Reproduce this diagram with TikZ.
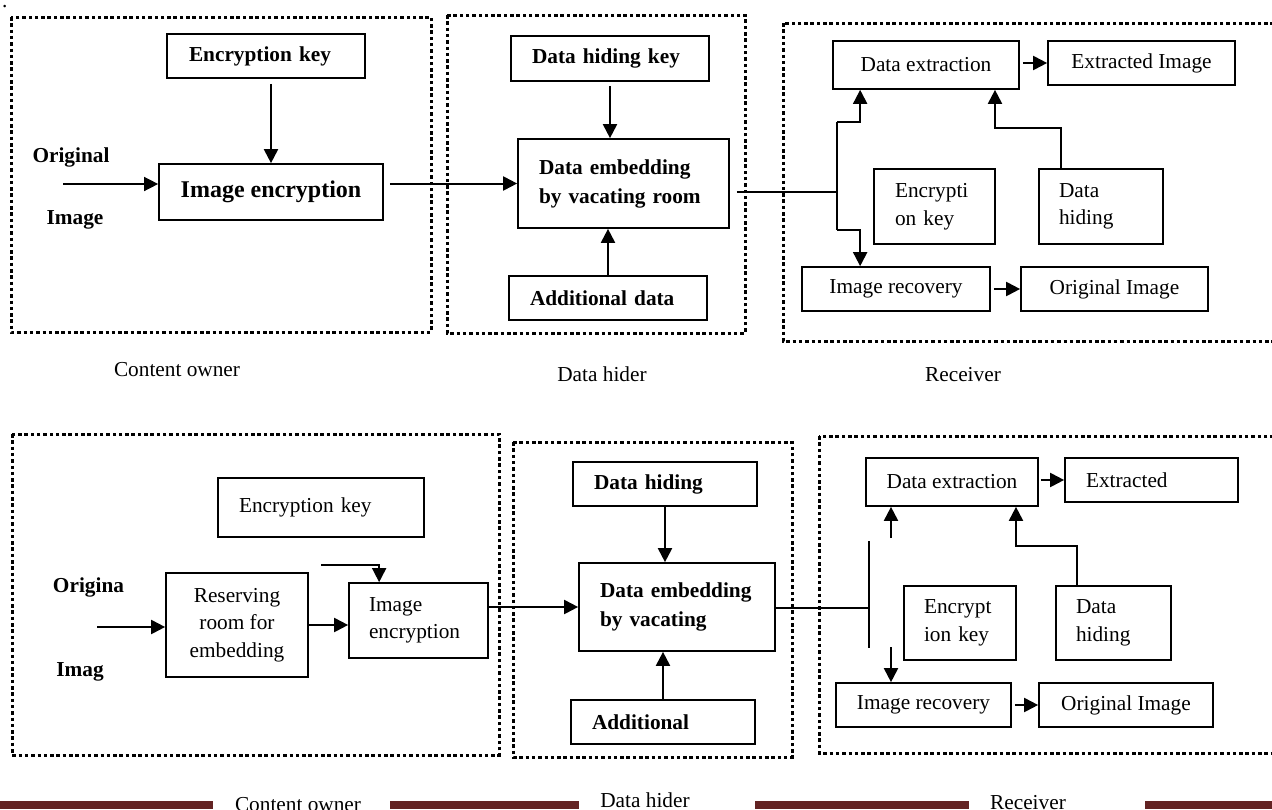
\documentclass[tikz,border=0pt]{standalone}
\usepackage{fontspec}
\setmainfont{Liberation Serif}
\usepackage{xcolor}
\usetikzlibrary{arrows.meta}
\definecolor{barred}{HTML}{632323}

\begin{document}
\begin{tikzpicture}[x=1pt,y=-1pt,font=\fontsize{21.3}{27.5}\selectfont,
  >={Triangle[length=14pt,width=14pt]},
  box/.style={draw,line width=1.7pt,inner sep=0pt,align=center},
  sz/.style 2 args={minimum width=#1pt,minimum height=#2pt},
  lft/.style 2 args={text width=#1pt,inner xsep=#2pt,align=left},
  bf/.style={font=\fontsize{21.3}{29}\selectfont\bfseries},
  zone/.style={line width=3pt,dash pattern=on 3.5pt off 2.8pt},
  arr/.style={->,line width=2pt},
  wire/.style={line width=1.5pt}]

\useasboundingbox (0,0) rectangle (1272,809);
\clip (0,0) rectangle (1272,809);

\node[anchor=base west,inner sep=0pt] (dot) at (2,7) {.};

% content owner (top)
\draw[zone] (11,17) rectangle (431,332);
\node[box,bf,sz={198}{44},lft={154}{22}] (ek1) at (266,56) {Encryption key};
\node[box,sz={224}{56},font=\fontsize{24}{28}\selectfont\bfseries] (ie1) at (271,192) {Image encryption};
\node[bf] (orig1) at (71,157) {Original};
\node[bf] (img1) at (75,220) {Image};
\coordinate (in1) at (63,184);
\draw[arr,line width=1.5pt] (in1) -- (in1 -| ie1.west);
\draw[arr] ([yshift=-5pt]ek1.south -| ie1.north) -- (ie1.north);

% data hider (top)
\draw[zone] (447,15) rectangle (745,333);
\node[box,bf,sz={198}{45},lft={156}{21}] (dhk1) at (610,58.5) {Data hiding key};
\node[box,bf,sz={211}{89},lft={169}{21}] (de1) at (623.5,183.5) {Data embedding\\by vacating room};
\node[box,bf,sz={198}{44},lft={156}{21}] (ad1) at (608,298) {Additional data};
\draw[arr] ([yshift=-4pt]dhk1.south) -- (dhk1.south |- de1.north);
\draw[arr] (ad1.north) -- (ad1.north |- de1.south);
\draw[arr] ([xshift=6pt]ie1.east |- de1.west) -- (de1.west);

% receiver (top)
\draw[zone] (783,23) rectangle (1290,341);
\node[box,sz={186}{48}] (dx1) at (926,65) {Data extraction};
\node[box,sz={187}{44}] (xi1) at (1141.5,63) {Extracted Image};
\node[box,sz={121}{75},lft={79}{21}] (ek2) at (934.5,206.5) {Encrypti\\on key};
\node[box,sz={124}{75},lft={84}{20}] (dh2) at (1101,206.5) {Data\\hiding};
\node[box,sz={188}{44}] (ir1) at (896,289) {Image recovery};
\node[box,sz={187}{44}] (oi1) at (1114.5,289) {Original Image};
\coordinate (split1) at (837,192);
\coordinate (up1) at (837,122);
\coordinate (dn1) at (837,230);
\coordinate (bend1) at (995,128);
\draw[line width=1.3pt] ([xshift=7pt]de1.east |- split1) -- (split1);
\draw[wire] (up1) -- (dn1);
\draw[arr] (up1) -| ([xshift=28pt]dx1.south west);
\draw[arr] (dn1) -| ([xshift=59pt]ir1.north west);
\draw[arr] ([xshift=3pt]dx1.east |- xi1.west) -- (xi1.west);
\draw[arr] ([xshift=-40pt]dh2.north) |- (bend1) -- (bend1 |- dx1.south);
\draw[arr] ([xshift=3pt]ir1.east) -- (oi1.west);

\node (own1) at (177,370) {Content owner};
\node (hid1) at (602,374) {Data hider};
\node (rcv1) at (963,375) {Receiver};

% content owner (bottom)
\draw[zone] (12,434) rectangle (499,755);
\node[box,sz={206}{59},lft={164}{21}] (ek3) at (321,507.5) {Encryption key};
\node[box,sz={142}{104}] (rr) at (237,625) {Reserving\\room for\\embedding};
\node[box,sz={139}{75},lft={99}{20}] (ie2) at (418.5,620.5) {Image\\encryption};
\node[bf] (orig2) at (88.5,587) {Origina};
\node[bf] (img2) at (80,672) {Imag};
\coordinate (in2) at (97,627);
\coordinate (k3) at (321,565);
\draw[arr] (in2) -- (in2 -| rr.west);
\draw[arr] (rr.east) -- (rr.east -| ie2.west);
\draw[arr,line width=1.7pt] (k3) -| ([xshift=31pt]ie2.north west);

% data hider (bottom)
\draw[zone] (513,442) rectangle (792,757);
\node[box,bf,sz={184}{44},lft={142}{21}] (dh3) at (665,484) {Data hiding};
\node[box,bf,sz={196}{88},lft={154}{21}] (de2) at (677,607) {Data embedding\\by vacating};
\node[box,bf,sz={184}{44},lft={142}{21}] (ad2) at (663,722) {Additional};
\draw[arr] (dh3.south) -- (dh3.south |- de2.north);
\draw[arr] (ad2.north) -- (ad2.north |- de2.south);
\draw[arr] (ie2.east |- de2.west) -- (de2.west);

% receiver (bottom)
\draw[zone] (819,436) rectangle (1290,753);
\node[box,sz={172}{48}] (dx2) at (952,482) {Data extraction};
\node[box,sz={173}{44},lft={131}{21}] (xt2) at (1151.5,480) {Extracted};
\node[box,sz={112}{74},lft={72}{20}] (ek4) at (960,623) {Encrypt\\ion key};
\node[box,sz={115}{74},lft={75}{20}] (dh4) at (1113.5,623) {Data\\hiding};
\node[box,sz={175}{44}] (ir2) at (923.5,705) {Image recovery};
\node[box,sz={174}{44}] (oi2) at (1126,705) {Original Image};
\coordinate (split2) at (869,608);
\coordinate (up2) at (869,541);
\coordinate (dn2) at (869,648);
\coordinate (a2) at (891,538);
\coordinate (b2) at (891,647);
\coordinate (bend2) at (1016,546);
\draw[line width=1.3pt] (de2.east |- split2) -- (split2);
\draw[wire] (up2) -- (dn2);
\draw[arr] (a2) -- (a2 |- dx2.south);
\draw[arr] (b2) -- (b2 |- ir2.north);
\draw[arr] ([xshift=2pt]dx2.east |- xt2.west) -- (xt2.west);
\draw[arr] ([xshift=-37pt]dh4.north) |- (bend2) -- (bend2 |- dx2.south);
\draw[arr] ([xshift=3pt]ir2.east) -- (oi2.west);

% footer
\fill[barred] (0,801) rectangle (213,809);
\fill[barred] (390,801) rectangle (579,809);
\fill[barred] (755,801) rectangle (969,809);
\fill[barred] (1145,801) rectangle (1272,809);
\node[anchor=base] (own2) at (298,811) {Content owner};
\node[anchor=base] (hid2) at (645,807) {Data hider};
\node[anchor=base] (rcv2) at (1028,809) {Receiver};

\end{tikzpicture}
\end{document}
